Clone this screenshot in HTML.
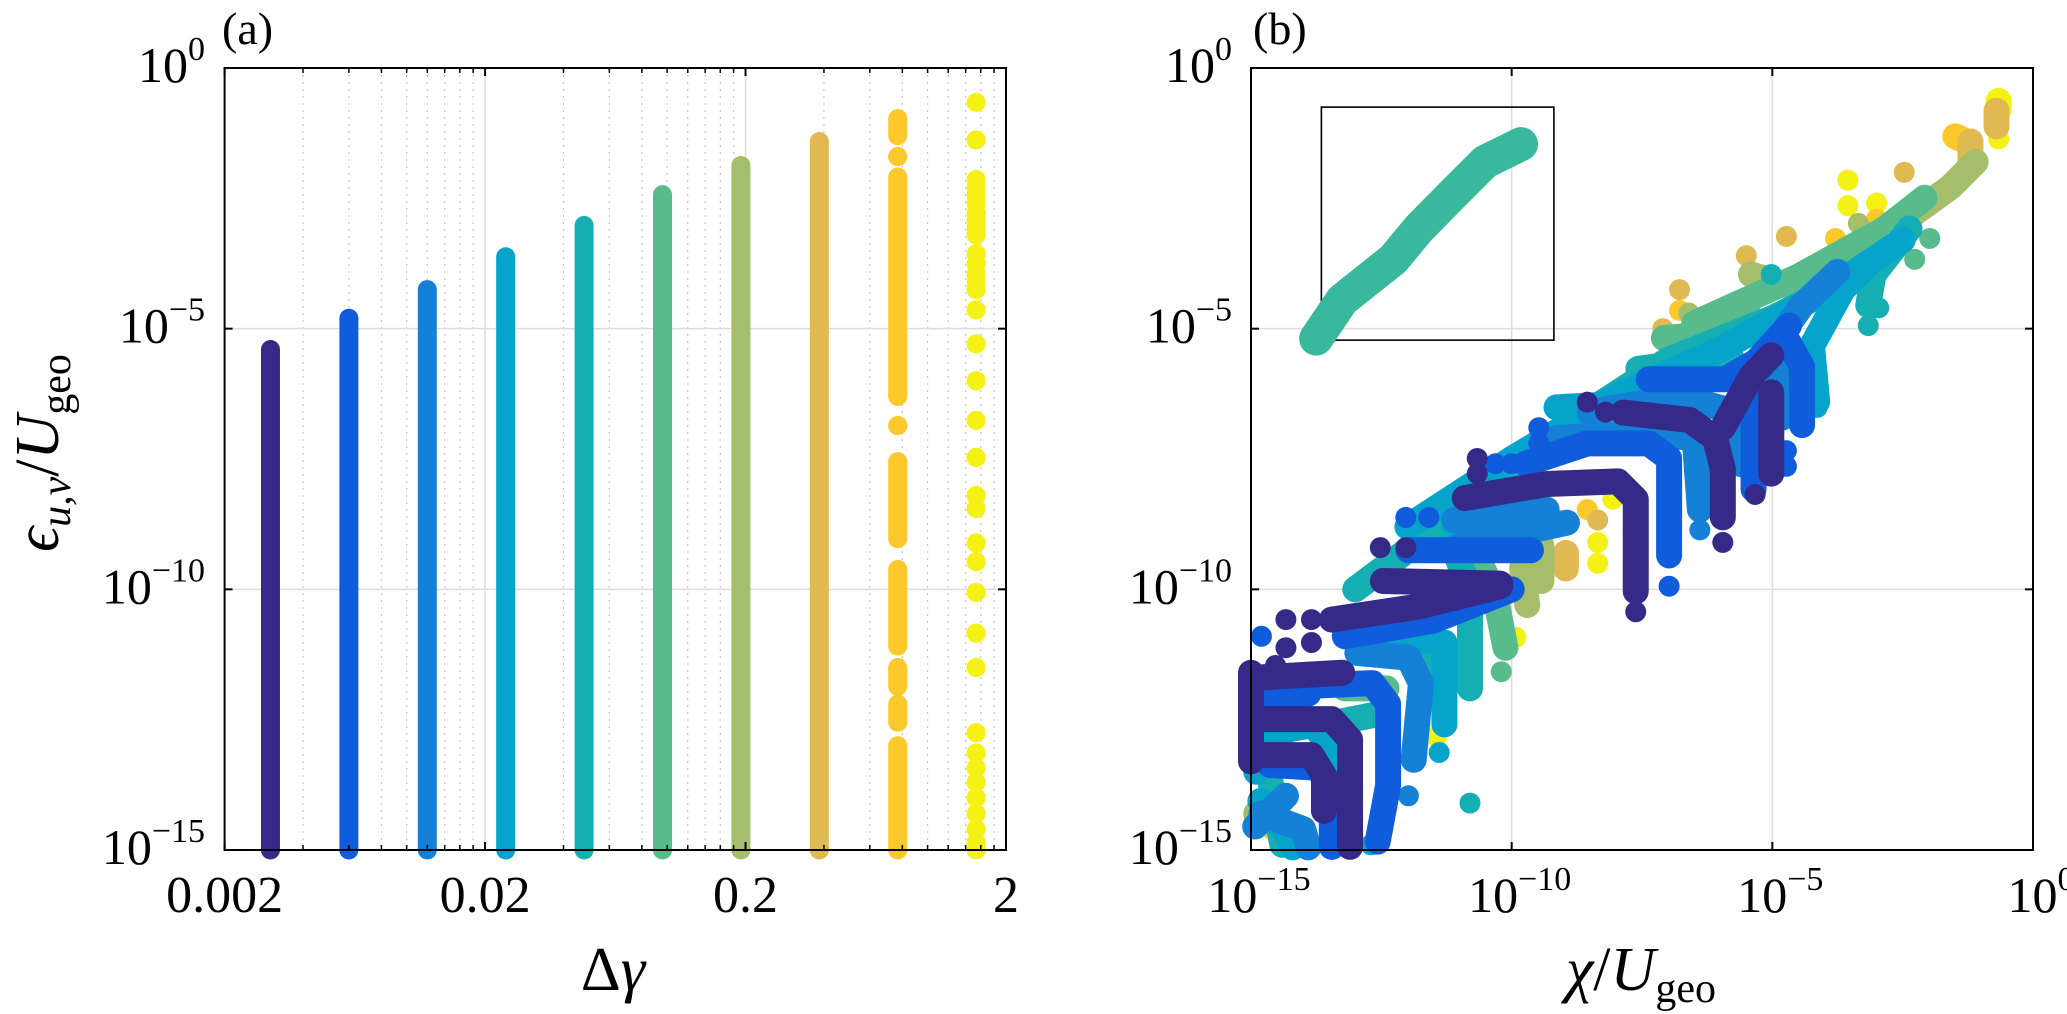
<!DOCTYPE html>
<html><head><meta charset="utf-8"><style>
html,body{margin:0;padding:0;background:#fff;}
svg{display:block;font-family:"Liberation Serif",serif;}
</style></head><body>
<svg id="fig" width="2067" height="1014" viewBox="0 0 2067 1014" xmlns="http://www.w3.org/2000/svg">
<g id="gridA"></g>
<g id="gridB"></g>
<g id="marksA"></g>
<g id="marksB"></g>
<g id="axesA"></g>
<g id="axesB"></g>
<text x="222" y="44" font-size="46">(a)</text>
<text x="1253" y="44" font-size="46">(b)</text>
<text x="613" y="990" font-size="62" text-anchor="middle">Δ<tspan font-style="italic">γ</tspan></text>
<text x="1641" y="990" font-size="62" text-anchor="middle"><tspan font-style="italic">χ</tspan>/<tspan font-style="italic">U</tspan><tspan font-size="42" dy="12">geo</tspan></text>
<text transform="translate(58,453) rotate(-90)" font-size="62" text-anchor="middle"><tspan font-style="italic">ϵ</tspan><tspan font-size="42" font-style="italic" dy="12">u,v</tspan><tspan dy="-12">/</tspan><tspan font-style="italic">U</tspan><tspan font-size="42" dy="12">geo</tspan></text>
</svg>
<script>
// ---------- data ----------
const seriesColors = ["#352a87","#0f5cdd","#1481d6","#06a4ca","#15afb3","#57bb8b","#a5be6b","#e1b952","#fbc92b","#f5f114"];
const deltaGamma = [0.003,0.006,0.012,0.024,0.048,0.096,0.192,0.384,0.768,1.536];
// panel (a): intervals [top exponent, bottom exponent] of log10(eps) per column
const colA0 = [[-5.4,-15]];
const colA1 = [[-4.8,-15]];
const colA2 = [[-4.25,-15]];
const colA3 = [[-3.62,-15]];
const colA4 = [[-3.02,-15]];
const colA5 = [[-2.43,-15]];
const colA6 = [[-1.87,-15]];
const colA7 = [[-1.41,-15]];
const colA8 = [[-0.97,-1.3],[-1.7,-1.7],[-2.09,-6.3],[-6.86,-6.86],[-7.55,-9.03],[-9.62,-11.09],[-11.5,-11.86],[-12.2,-12.55],[-13.0,-15]];
const colA9 = [-0.66,-1.38,-2.14,-2.3,-2.44,-2.6,-2.78,-2.92,-3.07,-3.2,-3.56,-3.75,-3.95,-4.1,-4.25,-4.64,-5.29,-6.0,-6.76,-7.47,-8.2,-8.45,-9.11,-9.47,-10.06,-10.84,-11.5,-12.75,-13.14,-13.43,-13.7,-14.0,-14.3,-14.6,-14.85,-15];
const xTickLabelsA = ["0.002","0.02","0.2","2"];
const xTickValuesA = [0.002,0.02,0.2,2];
const yTickExps = [0,-5,-10,-15];
// panel (b): polylines [[log10 chi, log10 eps],...] and isolated dots per series
const linesB0 = [
 [[-7.86,-6.61],[-6.59,-6.75],[-6.1,-7.1],[-5.95,-7.69],[-5.95,-8.62]],
 [[-5.95,-6.9],[-5.41,-5.92],[-5.02,-5.51]],
 [[-5.02,-6.22],[-5.02,-7.78]],
 [[-10.9,-8.25],[-9.33,-7.98],[-7.96,-7.93],[-7.62,-8.27],[-7.62,-10.04]],
 [[-12.47,-9.84],[-10.22,-9.89]],
 [[-13.45,-10.58],[-11.78,-10.33],[-10.22,-9.94]],
 [[-15,-11.7],[-13.25,-11.6]],
 [[-15,-12.49],[-13.45,-12.49],[-13.1,-12.88],[-13.1,-14.94]],
 [[-15,-13.18],[-13.84,-13.18],[-13.6,-13.57],[-13.6,-14.25]],
 [[-15,-11.6],[-15,-13.3]]
];
const dotsB0 = [[-5.95,-9.1],[-5.33,-8.18],[-8.55,-6.41],[-8.2,-6.6],[-7.62,-10.43],[-10.66,-7.49],[-10.66,-7.78],[-12.52,-9.2],[-12.03,-9.2],[-14.33,-10.58],[-13.84,-10.58],[-14.33,-11.12],[-13.84,-11.02],[-14.53,-11.46]];
const linesB1 = [
 [[-7.37,-5.97],[-5.9,-5.97],[-5.31,-5.63],[-4.68,-4.94]],
 [[-4.78,-5.1],[-4.43,-5.73],[-4.43,-6.85]],
 [[-5.36,-6.12],[-5.36,-8.08]],
 [[-9.73,-7.59],[-8.55,-7.2],[-7.37,-7.2],[-6.98,-7.49],[-6.98,-9.35]],
 [[-11.98,-9.25],[-9.63,-9.25]],
 [[-13.84,-11.85],[-12.67,-11.8],[-12.37,-12.2],[-12.37,-13.76],[-12.57,-14.84]],
 [[-14.63,-13.37],[-13.75,-13.42],[-13.45,-13.76],[-13.45,-14.94]],
 [[-14.9,-12.1],[-13.9,-12.0]],
 [[-13.2,-10.9],[-11.5,-10.6],[-10.0,-10.0]]
];
const dotsB1 = [[-4.73,-7.34],[-4.73,-7.64],[-6.98,-9.94],[-9.48,-6.9],[-9.48,-7.2],[-10.31,-7.59],[-10.0,-7.59],[-12.03,-8.62],[-11.59,-8.62],[-14.8,-10.9]];
const linesB2 = [
 [[-3.75,-3.91],[-4.43,-4.55],[-4.92,-5.24],[-4.82,-6.71]],
 [[-9.14,-7.1],[-7.57,-7.0],[-6.49,-7.1],[-6.39,-8.47]],
 [[-11.0,-9.16],[-8.94,-8.72]],
 [[-11.1,-8.67],[-9.33,-8.47]],
 [[-12.96,-11.22],[-11.98,-11.31],[-11.74,-11.8],[-11.88,-13.27]],
 [[-14.92,-14.55],[-14.33,-13.96]],
 [[-14.8,-14.3],[-14.0,-14.6],[-13.9,-14.95]],
 [[-8.5,-6.6],[-6.8,-6.3],[-5.7,-6.6],[-5.6,-7.6]]
];
const dotsB2 = [[-6.39,-8.86],[-11.98,-13.96]];
const linesB3 = [
 [[-3.16,-3.76],[-3.65,-4.25],[-4.24,-5.33],[-4.14,-6.4]],
 [[-9.14,-6.51],[-7.37,-6.41],[-6.6,-6.3]],
 [[-11.1,-8.77],[-10.0,-8.85]],
 [[-12.27,-10.92],[-11.29,-11.02],[-11.29,-12.59]],
 [[-14.82,-14.06],[-14.33,-14.65],[-14.2,-14.95]],
 [[-14.9,-13.5],[-14.5,-13.0]],
 [[-12.0,-8.8],[-10.0,-7.5],[-8.0,-6.3],[-6.0,-5.4],[-4.0,-4.3],[-2.5,-3.3]],
 [[-14.9,-12.8],[-13.8,-12.6],[-13.5,-13.0],[-13.5,-14.0]]
];
const dotsB3 = [[-4.14,-6.51],[-11.39,-13.13],[-12.7,-14.9]];
const linesB4 = [
 [[-2.37,-3.08],[-3.06,-3.96],[-3.16,-4.55]],
 [[-7.57,-5.77],[-5.8,-5.53]],
 [[-11.2,-9.0],[-10.8,-10.0],[-10.8,-11.9]],
 [[-13.55,-12.59],[-12.6,-12.4]],
 [[-14.7,-13.3],[-14.4,-14.9]],
 [[-13.0,-10.0],[-11.0,-8.5],[-9.0,-6.9],[-7.0,-5.6],[-5.0,-4.8],[-3.0,-3.8]],
 [[-12.4,-11.2],[-11.6,-11.0],[-11.4,-11.6]]
];
const dotsB4 = [[-2.96,-4.6],[-3.16,-4.94],[-5.02,-3.96],[-10.8,-14.1]];
const linesB5 = [
 [[-2.08,-2.49],[-2.96,-3.18],[-3.65,-3.76]],
 [[-7.08,-5.18],[-6.59,-5.14],[-5.41,-4.79]],
 [[-10.6,-9.5],[-10.31,-10.14],[-10.12,-11.12]],
 [[-13.2,-11.9],[-12.4,-11.9]],
 [[-6.5,-4.9],[-4.5,-4.0],[-2.5,-2.9]]
];
const dotsB5 = [[-2.27,-3.67],[-1.98,-3.27],[-10.2,-11.58]];
const insetCloud = [[-13.75,-5.19],[-13.25,-4.45],[-12.27,-3.67],[-11.78,-3.08],[-11.1,-2.39],[-10.51,-1.8],[-9.82,-1.46]];
const insetBox = [[-13.65,-0.75],[-9.19,-5.22]];
const linesB6 = [
 [[-1.1,-1.8],[-1.59,-2.29],[-2.27,-2.78]],
 [[-5.41,-3.96],[-4.43,-4.25]],
 [[-9.43,-9.16],[-9.43,-9.84]],
 [[-14.9,-14.3],[-14.5,-14.0]],
 [[-9.8,-9.6],[-9.7,-10.3]]
];
const dotsB6 = [[-3.35,-2.98],[-6.6,-4.7]];
const linesB7 = [
 [[-0.7,-0.82],[-0.7,-1.12]],
 [[-1.2,-1.41],[-1.2,-1.9]],
 [[-8.96,-9.3],[-8.96,-9.6]]
];
const dotsB7 = [[-2.47,-2.0],[-4.73,-3.23],[-6.78,-4.25],[-8.35,-8.67],[-5.5,-3.6],[-7.1,-5.0]];
const linesB8 = [[[-1.49,-1.31],[-1.3,-1.4]]];
const dotsB8 = [[-3.79,-3.27],[-6.78,-4.65],[-8.55,-8.47],[-3.0,-2.9],[-14.6,-14.6]];
const linesB9 = [[[-0.66,-0.63],[-0.66,-0.8]]];
const dotsB9 = [[-0.66,-1.36],[-3.55,-2.15],[-3.55,-2.64],[-3.0,-2.59],[-8.06,-8.27],[-8.35,-9.1],[-8.35,-9.5],[-9.92,-10.92],[-11.44,-12.83]];
const xTickExpsB = [-15,-10,-5,0];

// ---------- scales ----------
const NS = "http://www.w3.org/2000/svg";
const A = {l:224.6, r:1006, t:68, b:850};
const B = {l:1251, r:2033, t:68, b:850};
const decY = (A.b - A.t)/15;
const yS = e => A.t + (-e)*decY;
const xA = v => A.l + (Math.log10(v) - Math.log10(0.002)) * (A.r - A.l)/3;
const xB = e => B.l + (e + 15) * (B.r - B.l)/15;
const R = 9.5;
function mk(tag, attrs, parent){ const el=document.createElementNS(NS,tag); for(const k in attrs) el.setAttribute(k,attrs[k]); parent.appendChild(el); return el; }

// ---------- grids ----------
const gA = document.getElementById('gridA');
for(let d=0; d<3; d++){ for(let m=2;m<=9;m++){ const v=0.002*Math.pow(10,d)*m; const x=xA(v);
  const ln=mk('line',{x1:x,x2:x,y1:A.t,y2:A.b,stroke:'#c8c8c8','stroke-width':1.2,'stroke-dasharray':'2,5'},gA);
    } }
xTickValuesA.slice(1,3).forEach(v=>{ const x=xA(v);
  const ln=mk('line',{x1:x,x2:x,y1:A.t,y2:A.b,stroke:'#dcdcdc','stroke-width':1.5},gA);
    });
[-5,-10].forEach(e=>{ const y=yS(e);
  const ln=mk('line',{x1:A.l,x2:A.r,y1:y,y2:y,stroke:'#dcdcdc','stroke-width':1.5},gA);
    });
const gB = document.getElementById('gridB');
[-10,-5].forEach(e=>{ const x=xB(e), y=yS(e);
  const l1=mk('line',{x1:x,x2:x,y1:B.t,y2:B.b,stroke:'#dcdcdc','stroke-width':1.5},gB);
   
  const l2=mk('line',{x1:B.l,x2:B.r,y1:y,y2:y,stroke:'#dcdcdc','stroke-width':1.5},gB);
    });

// ---------- panel (a) marks ----------
const mA = document.getElementById('marksA');
const colsA = [colA0,colA1,colA2,colA3,colA4,colA5,colA6,colA7,colA8,colA9.map(v=>[v,v])];
colsA.forEach((segs,i)=>{
  const g=mk('g',{},mA);
  
  
  const x=xA(deltaGamma[i]); const c=seriesColors[i];
  segs.forEach(s=>{
    const y1=yS(s[0]), y2=yS(s[1]);
    if(y2>y1) mk('rect',{x:x-R,y:y1,width:2*R,height:y2-y1,fill:c},g);
    mk('circle',{cx:x,cy:y1,r:R,fill:c},g);
    mk('circle',{cx:x,cy:y2,r:R,fill:c},g);
  });
});

// ---------- panel (b) marks ----------
const mB = document.getElementById('marksB');
const ib = mk('rect',{x:xB(insetBox[0][0]),y:yS(insetBox[0][1]),width:xB(insetBox[1][0])-xB(insetBox[0][0]),height:yS(insetBox[1][1])-yS(insetBox[0][1]),fill:'none',stroke:'#000','stroke-width':1.6},mB);
 
const ic = mk('polyline',{points:insetCloud.map(p=>xB(p[0])+','+yS(p[1])).join(' '),fill:'none',stroke:'#38b89c','stroke-width':34,'stroke-linecap':'round','stroke-linejoin':'round'},mB);
 
const linesB=[linesB0,linesB1,linesB2,linesB3,linesB4,linesB5,linesB6,linesB7,linesB8,linesB9];
const dotsB=[dotsB0,dotsB1,dotsB2,dotsB3,dotsB4,dotsB5,dotsB6,dotsB7,dotsB8,dotsB9];
for(let i=9;i>=0;i--){
  const g=mk('g',{},mB);
  
  
  const c=seriesColors[i];
  linesB[i].forEach(pl=>{
    mk('polyline',{points:pl.map(p=>xB(p[0])+','+yS(p[1])).join(' '),fill:'none',stroke:c,'stroke-width':26,'stroke-linecap':'round','stroke-linejoin':'round'},g);
  });
  dotsB[i].forEach(p=>{ mk('circle',{cx:xB(p[0]),cy:yS(p[1]),r:R+1,fill:c},g); });
}

// ---------- axes ----------
function expLabel(parent,x,y,exp,anchor){
  const t=mk('text',{x:x,y:y,'font-size':50,'text-anchor':anchor},parent);
  t.appendChild(document.createTextNode('10'));
  const s=mk('tspan',{'font-size':34,dy:-22},t);
  s.textContent = exp===0 ? '0' : '\u2212'+(-exp);
  return t;
}
function box(parent,P){
  const r=mk('rect',{x:P.l,y:P.t,width:P.r-P.l,height:P.b-P.t,fill:'none',stroke:'#000','stroke-width':2},parent);
   
}
const aA=document.getElementById('axesA'); box(aA,A);
xTickValuesA.forEach((v,i)=>{ const x=xA(v);
  mk('line',{x1:x,x2:x,y1:A.b,y2:A.b-8,stroke:'#000','stroke-width':2},aA);
  mk('line',{x1:x,x2:x,y1:A.t,y2:A.t+8,stroke:'#000','stroke-width':2},aA);
  const t=mk('text',{x:x,y:912,'font-size':52,'text-anchor':'middle'},aA);
  t.textContent=xTickLabelsA[i];
    });
for(let d=0; d<3; d++){ for(let m=2;m<=9;m++){ const x=xA(0.002*Math.pow(10,d)*m);
  mk('line',{x1:x,x2:x,y1:A.b,y2:A.b-5,stroke:'#000','stroke-width':1.5},aA);
  mk('line',{x1:x,x2:x,y1:A.t,y2:A.t+5,stroke:'#000','stroke-width':1.5},aA); } }
yTickExps.forEach(e=>{ const y=yS(e);
  mk('line',{x1:A.l,x2:A.l+8,y1:y,y2:y,stroke:'#000','stroke-width':2},aA);
  mk('line',{x1:A.r,x2:A.r-8,y1:y,y2:y,stroke:'#000','stroke-width':2},aA);
  const t=expLabel(aA,205,y+14,e,'end');
    });
const aB=document.getElementById('axesB'); box(aB,B);
xTickExpsB.forEach(e=>{ const x=xB(e);
  mk('line',{x1:x,x2:x,y1:B.b,y2:B.b-8,stroke:'#000','stroke-width':2},aB);
  mk('line',{x1:x,x2:x,y1:B.t,y2:B.t+8,stroke:'#000','stroke-width':2},aB);
  const t=expLabel(aB,x+8,912,e,'middle');
    });
yTickExps.forEach(e=>{ const y=yS(e);
  mk('line',{x1:B.l,x2:B.l+8,y1:y,y2:y,stroke:'#000','stroke-width':2},aB);
  mk('line',{x1:B.r,x2:B.r-8,y1:y,y2:y,stroke:'#000','stroke-width':2},aB);
  const t=expLabel(aB,1232,y+14,e,'end');
    });
</script>
</body></html>
